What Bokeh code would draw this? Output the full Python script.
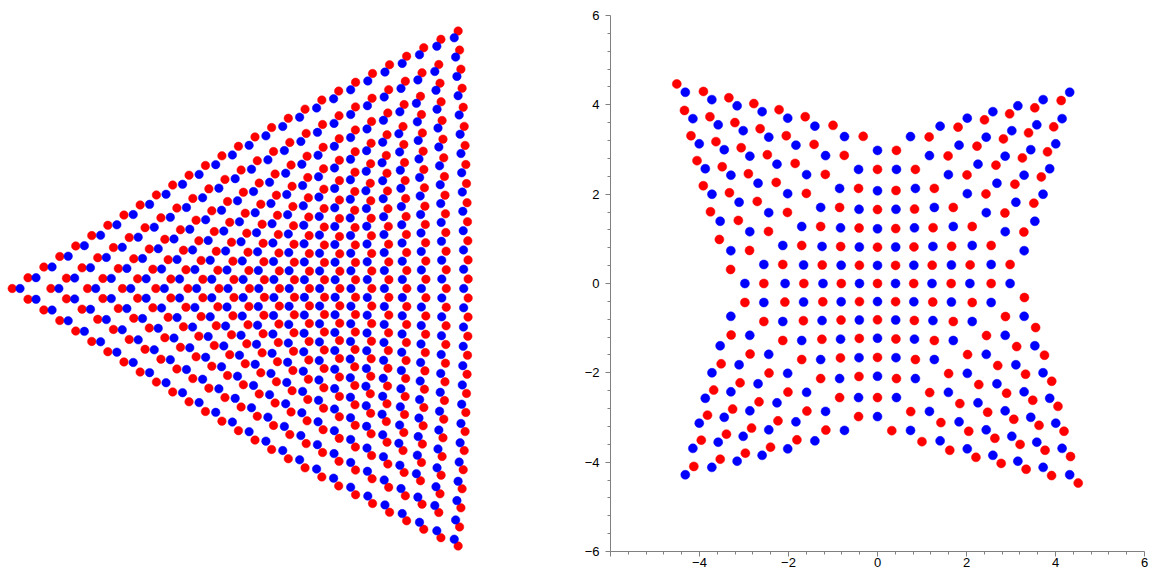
import numpy as np
from bokeh.plotting import figure
from bokeh.layouts import row
from bokeh.models import Range1d, FixedTicker
from bokeh.embed import file_html
from bokeh.resources import INLINE

# ---------------- values ----------------
# Left panel: two concentric triangular point lattices (red drawn first)
tri_colors = ["red", "blue"]
tri_points_per_edge = [28, 27]          # points along each edge
tri_relative_size = [1.000, 0.978]      # unwarped circumradius (red = 1)
tri_spacing_warp = 0.13                 # spacing grows towards the edges
tri_edge_bulge = 0.043                  # edges bow slightly outwards

# Right panel: a 45-degree lattice diamond with four triangular arms
star_colors = ["red", "blue"]
star_half_extent_d1 = [4.0, 3.5]        # lattice steps along (-1,-1)
star_half_extent_d2 = [3.0, 3.5]        # lattice steps along (1,-1)
star_lattice_step = 0.602
star_edge_step = [-0.617, 0.186]        # step along the upper-left edge from the top apex
star_centre_squeeze = 0.05              # lattice a little denser in the middle
star_arm_warp = 0.42                    # first arm rows a little wider apart

# right panel axis ticks
major_ticks = [-6, -4, -2, 0, 2, 4, 6]
minor_step = 0.4


def triangle_points(n_edge, size, k, e):
    n = n_edge - 1
    Vu = np.array([[-1.0, 0.0], [0.5, np.sqrt(3) / 2], [0.5, -np.sqrt(3) / 2]])
    V = Vu * size
    pts = []
    for i in range(n + 1):
        for j in range(n + 1 - i):
            l = n - i - j
            pts.append((i * V[0] + j * V[1] + l * V[2]) / n)
    P = np.array(pts)
    g = np.max(-2.0 * P @ Vu.T, axis=1)
    scale = 1 - k + k * g ** 2
    Q = P * scale[:, None]
    z = Q[:, 0] + 1j * Q[:, 1]
    z = (z + e * np.conj(z) ** 2) / (1 - e)
    return z.real, z.imag


def star_points(A, B, h, u1, k, w):
    d1 = np.array([-1.0, -1.0]) / np.sqrt(2)
    d2 = np.array([1.0, -1.0]) / np.sqrt(2)
    u1 = np.array(u1, dtype=float)
    v1 = np.array([-u1[0], u1[1]])
    pts = []
    for a in np.arange(-A, A + 1e-9, 1.0):
        for b in np.arange(-B, B + 1e-9, 1.0):
            rho = max(abs(a) / A, abs(b) / B)
            pts.append(h * (a * d1 + b * d2) * (1 - k + k * rho ** 2))
    T = h * (-A * d1 - B * d2)
    Bo = -T

    def C(c, n):
        t = c / n
        return n * (t + w * t * (1 - t) ** 2)

    nA = int(round(2 * A))
    nB = int(round(2 * B))
    for a in range(nA + 1):
        for c in range(1, nA - a + 1):
            cc = C(c, nA)
            s = a + (c - cc) / 2
            pts.append(T + s * h * d1 + cc * u1)      # upper-left arm
            pts.append(Bo - s * h * d1 - cc * u1)     # lower-right arm
    for b in range(nB + 1):
        for c in range(1, nB - b + 1):
            cc = C(c, nB)
            s = b + (c - cc) / 2
            pts.append(T + s * h * d2 + cc * v1)      # upper-right arm
            pts.append(Bo - s * h * d2 - cc * v1)     # lower-left arm
    P = np.array(pts)
    return P[:, 0], P[:, 1]


W, H = 1153, 579
FRAME_TOP, FRAME_BOTTOM = 15, 551

# ---------------- left panel ----------------
CX, CY, RPX = 309.0, 288.0, 297.3      # centre / scale of the triangle on the page
WL = 568
pL = figure(width=WL, height=H,
            x_range=Range1d((0 - CX) / RPX, (WL - CX) / RPX),
            y_range=Range1d((CY - FRAME_BOTTOM) / RPX, (CY - FRAME_TOP) / RPX),
            x_axis_location=None, y_axis_location=None,
            output_backend="svg", toolbar_location=None,
            min_border_left=0, min_border_right=0,
            min_border_top=FRAME_TOP, min_border_bottom=H - FRAME_BOTTOM)
pL.grid.visible = False
pL.outline_line_color = None
for col, n_edge, size in zip(tri_colors, tri_points_per_edge, tri_relative_size):
    x, y = triangle_points(n_edge, size, tri_spacing_warp, tri_edge_bulge)
    pL.scatter(x, y, size=8.5, fill_color=col, line_color=col, line_width=0.5)

# ---------------- right panel ----------------
pR = figure(width=W - WL, height=H, x_range=Range1d(-6, 6), y_range=Range1d(-6, 6),
            output_backend="svg", toolbar_location=None,
            min_border_left=610 - WL, min_border_right=W - 1144,
            min_border_top=FRAME_TOP, min_border_bottom=H - FRAME_BOTTOM)
pR.grid.visible = False
pR.outline_line_color = None
for col, A, B in zip(star_colors, star_half_extent_d1, star_half_extent_d2):
    x, y = star_points(A, B, star_lattice_step, star_edge_step,
                       star_centre_squeeze, star_arm_warp)
    pR.scatter(x, y, size=9, fill_color=col, line_color=col, line_width=0.5)

minor = [round(-6 + minor_step * k, 2) for k in range(31) if k % 5]
for ax in (pR.xaxis[0], pR.yaxis[0]):
    ax.ticker = FixedTicker(ticks=major_ticks, minor_ticks=minor)
    ax.axis_line_color = "#808080"
    ax.major_tick_line_color = "#808080"
    ax.minor_tick_line_color = "#808080"
    ax.major_tick_out = 5
    ax.major_tick_in = 0
    ax.minor_tick_out = 3
    ax.minor_tick_in = 0
    ax.major_label_text_font = "Liberation Sans"
    ax.major_label_text_font_size = "13px"
    ax.major_label_text_color = "black"
labels = {t: (("\u2212" + str(-t)) if t < 0 else str(t)) for t in major_ticks}
pR.yaxis[0].major_label_overrides = dict(labels)
xl = dict(labels)
xl[-6] = ""
pR.xaxis[0].major_label_overrides = xl
pR.xaxis[0].major_label_standoff = 1
pR.yaxis[0].major_label_standoff = 6

layout = row(pL, pR)
open("out.html", "w").write(file_html(layout, INLINE))
